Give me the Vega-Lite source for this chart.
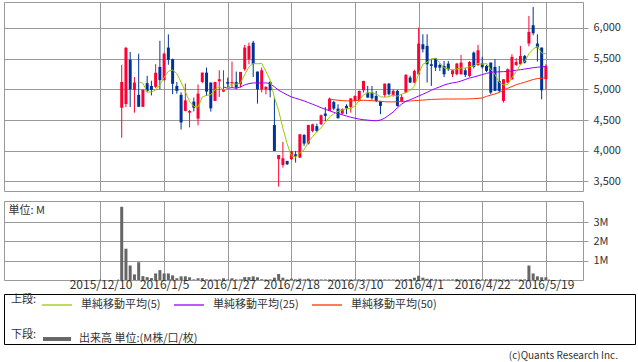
{
"$schema":"https://vega.github.io/schema/vega-lite/v6.json",
"background":"white",
"padding":{"left":3,"top":1,"right":0,"bottom":0},
"config":{
 "font":"Noto Sans CJK JP",
 "view":{"stroke":"#999999","strokeWidth":1},
 "axis":{"labelFont":"Noto Sans CJK JP","labelFontSize":11,"labelColor":"#333333","gridColor":"#999999","gridOpacity":1,"tickColor":"#999999","domain":false},
 "legend":{"labelFont":"Noto Sans CJK JP","titleFont":"Noto Sans CJK JP","labelFontSize":11,"titleFontSize":11,"titleFontWeight":"normal","labelColor":"#333333","titleColor":"#333333","padding":0,"offset":0}
},
"data":{"values":[
{"date":"2015/12/17","open":4700,"high":5400,"low":4210,"close":5120,"volume":3.79},
{"date":"2015/12/18","open":4760,"high":5690,"low":4710,"close":5675,"volume":1.62},
{"date":"2015/12/21","open":5480,"high":5610,"low":4710,"close":5000,"volume":0.75},
{"date":"2015/12/22","open":4990,"high":5200,"low":4620,"close":5110,"volume":0.29},
{"date":"2015/12/24","open":4910,"high":5580,"low":4715,"close":4715,"volume":0.92,"ma5":5124},
{"date":"2015/12/25","open":4715,"high":5000,"low":4715,"close":4990,"volume":0.2,"ma5":5098},
{"date":"2015/12/28","open":5100,"high":5220,"low":4950,"close":4975,"volume":0.15,"ma5":4958},
{"date":"2015/12/29","open":5055,"high":5140,"low":4900,"close":4990,"volume":0.1,"ma5":4956},
{"date":"2015/12/30","open":5040,"high":5410,"low":5020,"close":5270,"volume":0.34,"ma5":4988},
{"date":"2016/1/4","open":5365,"high":5790,"low":5000,"close":5150,"volume":0.51,"ma5":5075},
{"date":"2016/1/5","open":5150,"high":5600,"low":5140,"close":5580,"volume":0.34,"ma5":5193},
{"date":"2016/1/6","open":5680,"high":5895,"low":5400,"close":5480,"volume":0.34,"ma5":5294},
{"date":"2016/1/7","open":5490,"high":5500,"low":4920,"close":5090,"volume":0.24,"ma5":5314},
{"date":"2016/1/8","open":5055,"high":5120,"low":4930,"close":4975,"volume":0.09,"ma5":5255},
{"date":"2016/1/12","open":4910,"high":4950,"low":4345,"close":4460,"volume":0.19,"ma5":5117},
{"date":"2016/1/13","open":4648,"high":5095,"low":4640,"close":4820,"volume":0.19,"ma5":4965},
{"date":"2016/1/14","open":4620,"high":4660,"low":4380,"close":4648,"volume":0.14,"ma5":4799},
{"date":"2016/1/15","open":4800,"high":4865,"low":4640,"close":4700,"volume":0.03,"ma5":4721},
{"date":"2016/1/18","open":4523,"high":5080,"low":4414,"close":4930,"volume":0.09,"ma5":4712},
{"date":"2016/1/19","open":5120,"high":5272,"low":5100,"close":5272,"volume":0.09,"ma5":4874},
{"date":"2016/1/20","open":5272,"high":5354,"low":4892,"close":4963,"volume":0.03,"ma5":4903},
{"date":"2016/1/21","open":5110,"high":5110,"low":4637,"close":4691,"volume":0.03,"ma5":4911},
{"date":"2016/1/22","open":4811,"high":5120,"low":4811,"close":5120,"volume":0.03,"ma5":4995},
{"date":"2016/1/25","open":5131,"high":5310,"low":4876,"close":5164,"volume":0.03,"ma5":5042},
{"date":"2016/1/26","open":4963,"high":5310,"low":4955,"close":5001,"volume":0.09,"ma5":4988,"ma25":5039},
{"date":"2016/1/27","open":5120,"high":5190,"low":5028,"close":5093,"volume":0.03,"ma5":5014,"ma25":5017},
{"date":"2016/1/28","open":5093,"high":5451,"low":5028,"close":5120,"volume":0.09,"ma5":5100,"ma25":5028},
{"date":"2016/1/29","open":5120,"high":5289,"low":5001,"close":5028,"volume":0.03,"ma5":5081,"ma25":5017},
{"date":"2016/2/1","open":5082,"high":5283,"low":5028,"close":5283,"volume":0.03,"ma5":5105,"ma25":5039},
{"date":"2016/2/2","open":5327,"high":5723,"low":5300,"close":5680,"volume":0.15,"ma5":5241,"ma25":5072},
{"date":"2016/2/3","open":5490,"high":5761,"low":5408,"close":5707,"volume":0.15,"ma5":5364,"ma25":5093},
{"date":"2016/2/4","open":5760,"high":5790,"low":5200,"close":5410,"volume":0.19,"ma5":5422,"ma25":5104},
{"date":"2016/2/5","open":5289,"high":5289,"low":4767,"close":5001,"volume":0.14,"ma5":5416,"ma25":5104},
{"date":"2016/2/8","open":5001,"high":5354,"low":4950,"close":5310,"volume":0.04,"ma5":5422,"ma25":5104},
{"date":"2016/2/9","open":5001,"high":5050,"low":4920,"close":5039,"volume":0.03,"ma5":5293,"ma25":5104},
{"date":"2016/2/10","open":5120,"high":5137,"low":4870,"close":4985,"volume":0.03,"ma5":5149,"ma25":5093},
{"date":"2016/2/12","open":4420,"high":4865,"low":3996,"close":3996,"volume":0.12,"ma5":4866,"ma25":5039},
{"date":"2016/2/15","open":3861,"high":3931,"low":3415,"close":3931,"volume":0.31,"ma5":4652,"ma25":4985},
{"date":"2016/2/16","open":3768,"high":4143,"low":3725,"close":3877,"volume":0.12,"ma5":4366,"ma25":4947},
{"date":"2016/2/17","open":3834,"high":3834,"low":3768,"close":3779,"volume":0.03,"ma5":4114,"ma25":4909},
{"date":"2016/2/18","open":3861,"high":4000,"low":3850,"close":3996,"volume":0.07,"ma5":3916,"ma25":4876},
{"date":"2016/2/19","open":3942,"high":3996,"low":3807,"close":3910,"volume":0.03,"ma5":3899,"ma25":4854},
{"date":"2016/2/22","open":3888,"high":4268,"low":3880,"close":4268,"volume":0.07,"ma5":3966,"ma25":4833},
{"date":"2016/2/23","open":4257,"high":4270,"low":4080,"close":4116,"volume":0.03,"ma5":4014,"ma25":4811},
{"date":"2016/2/24","open":4116,"high":4420,"low":4100,"close":4420,"volume":0.07,"ma5":4142,"ma25":4784},
{"date":"2016/2/25","open":4322,"high":4440,"low":4300,"close":4430,"volume":0.03,"ma5":4229,"ma25":4757},
{"date":"2016/2/26","open":4400,"high":4441,"low":4300,"close":4322,"volume":0.03,"ma5":4311,"ma25":4730},
{"date":"2016/2/29","open":4430,"high":4590,"low":4420,"close":4577,"volume":0.03,"ma5":4373,"ma25":4700},
{"date":"2016/3/1","open":4605,"high":4710,"low":4480,"close":4567,"volume":0.03,"ma5":4463,"ma25":4675},
{"date":"2016/3/2","open":4648,"high":4865,"low":4648,"close":4849,"volume":0.03,"ma5":4549,"ma25":4650,"ma50":4838},
{"date":"2016/3/3","open":4794,"high":4811,"low":4660,"close":4686,"volume":0.03,"ma5":4600,"ma25":4625,"ma50":4830},
{"date":"2016/3/4","open":4686,"high":4757,"low":4528,"close":4528,"volume":0.03,"ma5":4641,"ma25":4605,"ma50":4822},
{"date":"2016/3/7","open":4604,"high":4690,"low":4590,"close":4675,"volume":0.03,"ma5":4661,"ma25":4585,"ma50":4816},
{"date":"2016/3/8","open":4730,"high":4757,"low":4594,"close":4691,"volume":0.03,"ma5":4686,"ma25":4565,"ma50":4812},
{"date":"2016/3/9","open":4713,"high":4854,"low":4621,"close":4854,"volume":0.03,"ma5":4687,"ma25":4545,"ma50":4812},
{"date":"2016/3/10","open":4811,"high":4900,"low":4800,"close":4892,"volume":0.03,"ma5":4728,"ma25":4530,"ma50":4815},
{"date":"2016/3/11","open":4822,"high":4980,"low":4800,"close":4974,"volume":0.03,"ma5":4817,"ma25":4515,"ma50":4818},
{"date":"2016/3/14","open":4985,"high":5137,"low":4947,"close":5137,"volume":0.03,"ma5":4910,"ma25":4505,"ma50":4822},
{"date":"2016/3/15","open":4947,"high":5055,"low":4865,"close":4865,"volume":0.03,"ma5":4944,"ma25":4498,"ma50":4820},
{"date":"2016/3/16","open":4947,"high":5055,"low":4830,"close":4854,"volume":0.03,"ma5":4944,"ma25":4492,"ma50":4815},
{"date":"2016/3/17","open":4892,"high":4974,"low":4790,"close":4811,"volume":0.03,"ma5":4928,"ma25":4487,"ma50":4810},
{"date":"2016/3/18","open":4811,"high":4811,"low":4594,"close":4730,"volume":0.03,"ma5":4879,"ma25":4500,"ma50":4803},
{"date":"2016/3/22","open":4909,"high":5093,"low":4876,"close":5093,"volume":0.03,"ma5":4871,"ma25":4530,"ma50":4798},
{"date":"2016/3/23","open":5093,"high":5100,"low":4900,"close":4920,"volume":0.03,"ma5":4882,"ma25":4580,"ma50":4795},
{"date":"2016/3/24","open":4909,"high":5000,"low":4880,"close":4974,"volume":0.03,"ma5":4906,"ma25":4630,"ma50":4795},
{"date":"2016/3/25","open":4974,"high":4990,"low":4720,"close":4730,"volume":0.03,"ma5":4889,"ma25":4700,"ma50":4798},
{"date":"2016/3/28","open":4800,"high":4920,"low":4790,"close":4876,"volume":0.03,"ma5":4919,"ma25":4760,"ma50":4800},
{"date":"2016/3/29","open":4947,"high":5250,"low":4940,"close":5234,"volume":0.05,"ma5":4947,"ma25":4805,"ma50":4805},
{"date":"2016/3/30","open":5191,"high":5220,"low":5100,"close":5110,"volume":0.05,"ma5":4985,"ma25":4830,"ma50":4810},
{"date":"2016/3/31","open":5110,"high":5320,"low":5100,"close":5300,"volume":0.12,"ma5":5050,"ma25":4860,"ma50":4815},
{"date":"2016/4/1","open":5245,"high":6005,"low":5245,"close":5745,"volume":0.22,"ma5":5253,"ma25":4890,"ma50":4820},
{"date":"2016/4/4","open":5734,"high":5897,"low":5600,"close":5653,"volume":0.12,"ma5":5408,"ma25":4920,"ma50":4825},
{"date":"2016/4/5","open":5707,"high":5897,"low":5110,"close":5408,"volume":0.06,"ma5":5443,"ma25":4950,"ma50":4830},
{"date":"2016/4/6","open":5408,"high":5490,"low":5055,"close":5381,"volume":0.06,"ma5":5497,"ma25":4985,"ma50":4835},
{"date":"2016/4/7","open":5506,"high":5506,"low":5300,"close":5354,"volume":0.03,"ma5":5508,"ma25":5015,"ma50":4838},
{"date":"2016/4/8","open":5397,"high":5420,"low":5300,"close":5354,"volume":0.03,"ma5":5430,"ma25":5040,"ma50":4840},
{"date":"2016/4/11","open":5381,"high":5462,"low":5200,"close":5245,"volume":0.03,"ma5":5348,"ma25":5070,"ma50":4842},
{"date":"2016/4/12","open":5419,"high":5460,"low":5300,"close":5327,"volume":0.03,"ma5":5332,"ma25":5090,"ma50":4842},
{"date":"2016/4/13","open":5245,"high":5320,"low":5200,"close":5310,"volume":0.03,"ma5":5318,"ma25":5105,"ma50":4842},
{"date":"2016/4/14","open":5245,"high":5430,"low":5230,"close":5419,"volume":0.05,"ma5":5331,"ma25":5115,"ma50":4842},
{"date":"2016/4/15","open":5245,"high":5560,"low":5240,"close":5435,"volume":0.03,"ma5":5347,"ma25":5135,"ma50":4843},
{"date":"2016/4/18","open":5310,"high":5350,"low":5200,"close":5234,"volume":0.03,"ma5":5345,"ma25":5160,"ma50":4843},
{"date":"2016/4/19","open":5218,"high":5460,"low":5200,"close":5446,"volume":0.03,"ma5":5369,"ma25":5185,"ma50":4845},
{"date":"2016/4/20","open":5598,"high":5615,"low":5340,"close":5365,"volume":0.05,"ma5":5380,"ma25":5200,"ma50":4848},
{"date":"2016/4/21","open":5397,"high":5723,"low":5380,"close":5636,"volume":0.05,"ma5":5423,"ma25":5220,"ma50":4852},
{"date":"2016/4/22","open":5420,"high":5530,"low":5340,"close":5360,"volume":0.03,"ma5":5408,"ma25":5240,"ma50":4860},
{"date":"2016/4/25","open":5380,"high":5400,"low":5280,"close":5300,"volume":0.03,"ma5":5421,"ma25":5260,"ma50":4885},
{"date":"2016/4/26","open":5435,"high":5435,"low":4920,"close":4947,"volume":0.05,"ma5":5322,"ma25":5275,"ma50":4905},
{"date":"2016/4/27","open":5365,"high":5490,"low":4970,"close":4974,"volume":0.03,"ma5":5243,"ma25":5282,"ma50":4925},
{"date":"2016/4/28","open":5137,"high":5380,"low":4950,"close":4974,"volume":0.03,"ma5":5111,"ma25":5285,"ma50":4950},
{"date":"2016/5/2","open":4811,"high":5164,"low":4784,"close":5164,"volume":0.03,"ma5":5072,"ma25":5288,"ma50":4985},
{"date":"2016/5/6","open":5110,"high":5340,"low":5100,"close":5327,"volume":0.03,"ma5":5077,"ma25":5292,"ma50":5017},
{"date":"2016/5/9","open":5164,"high":5571,"low":5150,"close":5528,"volume":0.03,"ma5":5193,"ma25":5300,"ma50":5045},
{"date":"2016/5/10","open":5397,"high":5506,"low":5380,"close":5446,"volume":0.03,"ma5":5288,"ma25":5310,"ma50":5075},
{"date":"2016/5/11","open":5408,"high":5707,"low":5400,"close":5544,"volume":0.03,"ma5":5402,"ma25":5320,"ma50":5095},
{"date":"2016/5/12","open":5544,"high":5560,"low":5420,"close":5435,"volume":0.03,"ma5":5456,"ma25":5330,"ma50":5115},
{"date":"2016/5/13","open":5745,"high":6196,"low":5700,"close":5935,"volume":0.75,"ma5":5578,"ma25":5340,"ma50":5137},
{"date":"2016/5/16","open":6044,"high":6342,"low":5880,"close":5913,"volume":0.34,"ma5":5655,"ma25":5352,"ma50":5160},
{"date":"2016/5/17","open":5745,"high":5897,"low":5452,"close":5680,"volume":0.19,"ma5":5701,"ma25":5360,"ma50":5175},
{"date":"2016/5/18","open":5680,"high":5680,"low":4838,"close":4985,"volume":0.14,"ma5":5590,"ma25":5366,"ma50":5182},
{"date":"2016/5/19","open":5164,"high":5408,"low":5001,"close":5381,"volume":0.14,"ma5":5579,"ma25":5370,"ma50":5188}
]},
"spacing":2,
"resolve":{"scale":{"stroke":"shared","fill":"shared"},"legend":{"stroke":"shared","fill":"shared"}},
"vconcat":[
{"spacing":8,
 "resolve":{"scale":{"stroke":"shared","fill":"shared"},"legend":{"stroke":"shared","fill":"shared"}},
 "vconcat":[
 {"width":579,"height":189,
  "encoding":{"x":{"field":"date","type":"ordinal",
    "scale":{"type":"point","padding":0.75,"domain":["2015/11/9","2015/11/10","2015/11/11","2015/11/12","2015/11/13","2015/11/16","2015/11/17","2015/11/18","2015/11/19","2015/11/20","2015/11/24","2015/11/25","2015/11/26","2015/11/27","2015/11/30","2015/12/1","2015/12/2","2015/12/3","2015/12/4","2015/12/7","2015/12/8","2015/12/9","2015/12/10","2015/12/11","2015/12/14","2015/12/15","2015/12/16","2015/12/17","2015/12/18","2015/12/21","2015/12/22","2015/12/24","2015/12/25","2015/12/28","2015/12/29","2015/12/30","2016/1/4","2016/1/5","2016/1/6","2016/1/7","2016/1/8","2016/1/12","2016/1/13","2016/1/14","2016/1/15","2016/1/18","2016/1/19","2016/1/20","2016/1/21","2016/1/22","2016/1/25","2016/1/26","2016/1/27","2016/1/28","2016/1/29","2016/2/1","2016/2/2","2016/2/3","2016/2/4","2016/2/5","2016/2/8","2016/2/9","2016/2/10","2016/2/12","2016/2/15","2016/2/16","2016/2/17","2016/2/18","2016/2/19","2016/2/22","2016/2/23","2016/2/24","2016/2/25","2016/2/26","2016/2/29","2016/3/1","2016/3/2","2016/3/3","2016/3/4","2016/3/7","2016/3/8","2016/3/9","2016/3/10","2016/3/11","2016/3/14","2016/3/15","2016/3/16","2016/3/17","2016/3/18","2016/3/22","2016/3/23","2016/3/24","2016/3/25","2016/3/28","2016/3/29","2016/3/30","2016/3/31","2016/4/1","2016/4/4","2016/4/5","2016/4/6","2016/4/7","2016/4/8","2016/4/11","2016/4/12","2016/4/13","2016/4/14","2016/4/15","2016/4/18","2016/4/19","2016/4/20","2016/4/21","2016/4/22","2016/4/25","2016/4/26","2016/4/27","2016/4/28","2016/5/2","2016/5/6","2016/5/9","2016/5/10","2016/5/11","2016/5/12","2016/5/13","2016/5/16","2016/5/17","2016/5/18","2016/5/19","2016/5/20","2016/5/23","2016/5/24","2016/5/25","2016/5/26","2016/5/27","2016/5/30","2016/5/31"]},
    "axis":{"values":["2015/12/10","2016/1/5","2016/1/27","2016/2/18","2016/3/10","2016/4/1","2016/4/22","2016/5/19"],"labels":false,"ticks":false,"grid":true,"title":null}},
   "y":{"type":"quantitative","scale":{"domain":[3344,6422],"nice":false,"zero":false},
       "axis":{"orient":"right","values":[3500,4000,4500,5000,5500,6000],"format":",.0f","grid":true,"tickSize":5,"labelPadding":5,"title":null}}},
  "layer":[
   {"mark":{"type":"rule","strokeWidth":1},
    "encoding":{
     "y":{"field":"low","type":"quantitative"},
     "y2":{"field":"high"},
     "color":{"condition":{"test":"datum.close >= datum.open","value":"#ff0033"},"value":"#003399"}}},
   {"mark":{"type":"bar","size":3},
    "encoding":{
     "y":{"field":"open","type":"quantitative"},
     "y2":{"field":"close"},
     "color":{"condition":{"test":"datum.close >= datum.open","value":"#ff0033"},"value":"#003399"}}},
   {"mark":{"type":"line","strokeWidth":1},
    "encoding":{
     "y":{"field":"ma50","type":"quantitative"},
     "stroke":{"datum":"単純移動平均(50)","type":"nominal","scale":{"domain":["単純移動平均(5)","単純移動平均(25)","単純移動平均(50)"],"range":["#99cc00","#9900ff","#ff3300"]},
       "legend":{"orient":"none","legendX":7,"legendY":287,"direction":"horizontal","title":"上段:","titleOrient":"left","titlePadding":4,"symbolType":"stroke","symbolSize":900,"symbolStrokeWidth":1.3,"labelOffset":8,"columnPadding":10,"gridAlign":"each"}}}},
   {"mark":{"type":"line","strokeWidth":1},
    "encoding":{
     "y":{"field":"ma25","type":"quantitative"},
     "stroke":{"datum":"単純移動平均(25)","type":"nominal","scale":{"domain":["単純移動平均(5)","単純移動平均(25)","単純移動平均(50)"],"range":["#99cc00","#9900ff","#ff3300"]},
       "legend":{"orient":"none","legendX":7,"legendY":287,"direction":"horizontal","title":"上段:","titleOrient":"left","titlePadding":4,"symbolType":"stroke","symbolSize":900,"symbolStrokeWidth":1.3,"labelOffset":8,"columnPadding":10,"gridAlign":"each"}}}},
   {"mark":{"type":"line","strokeWidth":1},
    "encoding":{
     "y":{"field":"ma5","type":"quantitative"},
     "stroke":{"datum":"単純移動平均(5)","type":"nominal","scale":{"domain":["単純移動平均(5)","単純移動平均(25)","単純移動平均(50)"],"range":["#99cc00","#9900ff","#ff3300"]},
       "legend":{"orient":"none","legendX":7,"legendY":287,"direction":"horizontal","title":"上段:","titleOrient":"left","titlePadding":4,"symbolType":"stroke","symbolSize":900,"symbolStrokeWidth":1.3,"labelOffset":8,"columnPadding":10,"gridAlign":"each"}}}}
  ]},
 {"width":579,"height":79,
  "mark":{"type":"bar","size":3},
  "encoding":{
   "x":{"field":"date","type":"ordinal",
    "scale":{"type":"point","padding":0.75,"domain":["2015/11/9","2015/11/10","2015/11/11","2015/11/12","2015/11/13","2015/11/16","2015/11/17","2015/11/18","2015/11/19","2015/11/20","2015/11/24","2015/11/25","2015/11/26","2015/11/27","2015/11/30","2015/12/1","2015/12/2","2015/12/3","2015/12/4","2015/12/7","2015/12/8","2015/12/9","2015/12/10","2015/12/11","2015/12/14","2015/12/15","2015/12/16","2015/12/17","2015/12/18","2015/12/21","2015/12/22","2015/12/24","2015/12/25","2015/12/28","2015/12/29","2015/12/30","2016/1/4","2016/1/5","2016/1/6","2016/1/7","2016/1/8","2016/1/12","2016/1/13","2016/1/14","2016/1/15","2016/1/18","2016/1/19","2016/1/20","2016/1/21","2016/1/22","2016/1/25","2016/1/26","2016/1/27","2016/1/28","2016/1/29","2016/2/1","2016/2/2","2016/2/3","2016/2/4","2016/2/5","2016/2/8","2016/2/9","2016/2/10","2016/2/12","2016/2/15","2016/2/16","2016/2/17","2016/2/18","2016/2/19","2016/2/22","2016/2/23","2016/2/24","2016/2/25","2016/2/26","2016/2/29","2016/3/1","2016/3/2","2016/3/3","2016/3/4","2016/3/7","2016/3/8","2016/3/9","2016/3/10","2016/3/11","2016/3/14","2016/3/15","2016/3/16","2016/3/17","2016/3/18","2016/3/22","2016/3/23","2016/3/24","2016/3/25","2016/3/28","2016/3/29","2016/3/30","2016/3/31","2016/4/1","2016/4/4","2016/4/5","2016/4/6","2016/4/7","2016/4/8","2016/4/11","2016/4/12","2016/4/13","2016/4/14","2016/4/15","2016/4/18","2016/4/19","2016/4/20","2016/4/21","2016/4/22","2016/4/25","2016/4/26","2016/4/27","2016/4/28","2016/5/2","2016/5/6","2016/5/9","2016/5/10","2016/5/11","2016/5/12","2016/5/13","2016/5/16","2016/5/17","2016/5/18","2016/5/19","2016/5/20","2016/5/23","2016/5/24","2016/5/25","2016/5/26","2016/5/27","2016/5/30","2016/5/31"]},
    "axis":{"values":["2015/12/10","2016/1/5","2016/1/27","2016/2/18","2016/3/10","2016/4/1","2016/4/22","2016/5/19"],"labelAngle":0,"labelFontSize":12,"ticks":false,"grid":true,"labelPadding":-1,"title":null}},
   "y":{"field":"volume","type":"quantitative","scale":{"domain":[0,4.09],"nice":false},
    "axis":{"orient":"right","values":[1,2,3],"labelExpr":"datum.value + 'M'","grid":true,"tickSize":5,"labelPadding":5,
      "title":"単位: M","titleAngle":0,"titleX":-575,"titleY":9,"titleAlign":"left","titleBaseline":"middle","titleFontWeight":"normal","titleFontSize":11,"titleColor":"#333333"}},
   "fill":{"datum":"出来高 単位:(M株/口/枚)","type":"nominal","scale":{"range":["#666666"]},
    "legend":{"orient":"none","legendX":7,"legendY":323,"direction":"horizontal","title":"下段:","titleOrient":"left","titlePadding":6,"symbolType":"M-1,-0.14L1,-0.14L1,0.14L-1,0.14Z","symbolSize":784,"symbolStrokeWidth":0,"labelOffset":8}}
  }}
 ]},
{"width":631,"height":50,
 "view":{"stroke":"#000000"},
 "data":{"values":[{}]},
 "mark":{"type":"text","text":" "},
 "title":{"text":"(c)Quants Research Inc.","orient":"bottom","anchor":"end","fontSize":10,"fontWeight":"normal","color":"#333333","offset":7,"dx":-17}}
]
}
